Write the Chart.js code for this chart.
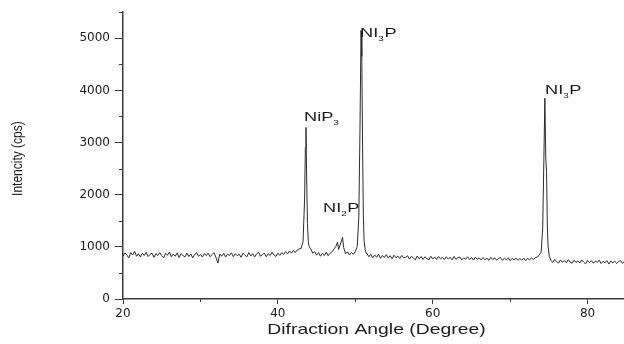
<!DOCTYPE html>
<html>
<head>
<meta charset="utf-8">
<script src="https://cdn.jsdelivr.net/npm/chart.js@4.4.0/dist/chart.umd.min.js"></script>
<style>
  html, body { margin: 0; padding: 0; background: #fff; }
</style>
</head>
<body>
<canvas id="xrdChart" width="624" height="344"></canvas>
<script>
// 2-theta angles (degrees) of the scan, one line per stretch
const angles = [
    20, 20.25, 20.5, 20.75, 21, 21.25, 21.5, 21.75, 22, 22.25, 22.5, 22.75, 23, 23.25, 23.5, 23.75, 24, 24.25, 24.5, 24.75,
    25, 25.25, 25.5, 25.75, 26, 26.25, 26.5, 26.75, 27, 27.25, 27.5, 27.75, 28, 28.25, 28.5, 28.75, 29, 29.25, 29.5, 29.75,
    30, 30.25, 30.5, 30.75, 31, 31.25, 31.5, 31.75, 32, 32.25, 32.5, 32.75, 33, 33.25, 33.5, 33.75, 34, 34.25, 34.5, 34.75,
    35, 35.25, 35.5, 35.75, 36, 36.25, 36.5, 36.75, 37, 37.25, 37.5, 37.75, 38, 38.25, 38.5, 38.75, 39, 39.25, 39.5, 39.75,
    40, 40.25, 40.5, 40.75, 41, 41.25, 41.5, 41.75, 42, 42.25, 42.5, 42.75,
    43, 43.25, 43.45, 43.55, 43.63, 43.72, 43.82, 43.93, 44.05, 44.25, 44.5, 44.75,
    45, 45.25, 45.5, 45.75, 46, 46.25, 46.5, 46.75, 47, 47.25, 47.5, 47.7, 47.85, 48, 48.2, 48.35, 48.5, 48.75, 49, 49.25, 49.5, 49.75,
    50, 50.25, 50.45, 50.6, 50.74, 50.84, 50.94, 51.04, 51.14, 51.28, 51.4,
    51.5, 51.75, 52, 52.25, 52.5, 52.75, 53, 53.25, 53.5, 53.75, 54, 54.25, 54.5, 54.75, 55, 55.25, 55.5, 55.75, 56, 56.25,
    56.5, 56.75, 57, 57.25, 57.5, 57.75, 58, 58.25, 58.5, 58.75, 59, 59.25, 59.5, 59.75, 60, 60.25, 60.5, 60.75, 61, 61.25,
    61.5, 61.75, 62, 62.25, 62.5, 62.75, 63, 63.25, 63.5, 63.75, 64, 64.25, 64.5, 64.75, 65, 65.25, 65.5, 65.75, 66, 66.25,
    66.5, 66.75, 67, 67.25, 67.5, 67.75, 68, 68.25, 68.5, 68.75, 69, 69.25, 69.5, 69.75, 70, 70.25, 70.5, 70.75, 71, 71.25,
    71.5, 71.75, 72, 72.25, 72.5, 72.75, 73, 73.25, 73.5, 73.75,
    74, 74.2, 74.35, 74.48, 74.6, 74.7, 74.8, 74.9, 75.05,
    75.25, 75.5, 75.75, 76, 76.25, 76.5, 76.75, 77, 77.25, 77.5, 77.75, 78, 78.25, 78.5, 78.75, 79, 79.25, 79.5, 79.75,
    80, 80.25, 80.5, 80.75, 81, 81.25, 81.5, 81.75, 82, 82.25, 82.5, 82.75, 83, 83.25, 83.5, 83.75, 84, 84.25, 84.5, 84.75
];

// measured intensity (cps), same layout as angles
const counts = [
    820, 885, 840, 790, 890, 845, 915, 820, 870, 805, 880, 835, 895, 815, 855, 880, 800, 870, 835, 890,
    830, 790, 875, 840, 900, 810, 860, 820, 885, 795, 870, 835, 805, 880, 815, 865, 790, 850, 890, 820,
    855, 805, 870, 830, 880, 810, 850, 890, 800, 690, 865, 820, 875, 805, 860, 835, 885, 810, 870, 830,
    860, 800, 880, 840, 810, 890, 825, 870, 805, 865, 900, 820, 850, 880, 810, 870, 835, 895, 845, 815,
    880, 835, 890, 855, 910, 865, 920, 880, 930, 890, 940, 960,
    970, 1100, 1900, 2900, 3290, 2300, 1450, 1100, 1000, 960, 880, 910,
    840, 890, 820, 880, 835, 900, 830, 880, 905, 960, 1010, 1090, 950, 1020, 1110, 1180, 985, 865, 905, 845, 890, 855,
    905, 1010, 1550, 3200, 5150, 4650, 2900, 1600, 1100, 950, 880,
    870, 810, 855, 790, 845, 800, 860, 780, 835, 795, 850, 785, 830, 770, 840, 790, 825, 775, 835, 790,
    800, 830, 765, 820, 785, 750, 825, 770, 815, 760, 810, 775, 750, 820, 765, 805, 760, 815, 770, 800,
    755, 810, 765, 800, 750, 815, 760, 795, 805, 750, 790, 760, 810, 755, 795, 745, 800, 760, 790, 750,
    795, 750, 785, 740, 800, 755, 790, 745, 780, 795, 740, 785, 750, 790, 735, 780, 750, 785, 740, 775,
    745, 785, 735, 780, 750, 790, 755, 795, 805, 845,
    900, 1350, 2650, 3850, 2700, 2450, 1400, 1000, 820,
    745, 700, 760, 715, 690, 750, 705, 740, 695, 755, 710, 685, 745, 700, 735, 690, 750, 705, 675,
    740, 695, 735, 685, 730, 700, 745, 680, 725, 695, 735, 670, 730, 690, 725, 680, 720, 735, 685, 715
];

// axis ticks
const xMajorTicks = [20, 40, 60, 80];
const xMinorTicks = [30, 50, 70];
const yMajorTicks = [0, 1000, 2000, 3000, 4000, 5000];
const yMinorTicks = [500, 1500, 2500, 3500, 4500, 5500];

// phase labels: text before subscript, subscript, text after, anchor (angle, cps)
const phaseMain = ['NiP', 'NI', 'NI', 'NI'];
const phaseSub = ['3', '2', '3', '3'];
const phaseTail = ['', 'P', 'P', 'P'];
const phaseAngle = [43.38, 45.83, 50.61, 74.5];
const phaseCount = [3418, 1661, 5022, 3934];

const axisColor = '#3a3a3a';
const textColor = '#1a1a1a';
const tickFont = { family: 'DejaVu Sans', size: 12 };
const stretch = 1.4; // the source picture is drawn wide

// short minor tick marks
const minorTicks = {
    id: 'minorTicks',
    afterDraw(chart) {
        const ctx = chart.ctx;
        const x = chart.scales.x;
        const y = chart.scales.y;
        ctx.save();
        ctx.strokeStyle = axisColor;
        ctx.lineWidth = 1;
        ctx.beginPath();
        xMinorTicks.forEach(v => {
            const px = Math.round(x.getPixelForValue(v)) + 0.5;
            ctx.moveTo(px, y.bottom);
            ctx.lineTo(px, y.bottom + 3);
        });
        yMinorTicks.forEach(v => {
            const py = Math.round(y.getPixelForValue(v)) + 0.5;
            ctx.moveTo(x.left - 4, py);
            ctx.lineTo(x.left, py);
        });
        ctx.stroke();
        ctx.restore();
    }
};

// phase names next to the peaks and the two axis titles
const chartTexts = {
    id: 'chartTexts',
    afterDraw(chart) {
        const ctx = chart.ctx;
        const x = chart.scales.x;
        const y = chart.scales.y;
        ctx.save();
        ctx.fillStyle = textColor;
        ctx.textBaseline = 'alphabetic';

        for (let i = 0; i < phaseMain.length; i++) {
            const px = x.getPixelForValue(phaseAngle[i]);
            const py = y.getPixelForValue(phaseCount[i]);
            ctx.save();
            ctx.translate(px, py);
            ctx.scale(stretch, 1);
            ctx.textAlign = 'left';
            let cx = 0;
            ctx.font = '13px "Liberation Sans"';
            ctx.fillText(phaseMain[i], cx, 0);
            cx += ctx.measureText(phaseMain[i]).width;
            ctx.font = '7px "Liberation Sans"';
            ctx.fillText(phaseSub[i], cx, 4);
            cx += ctx.measureText(phaseSub[i]).width + 0.5;
            ctx.font = '13px "Liberation Sans"';
            ctx.fillText(phaseTail[i], cx, 0);
            ctx.restore();
        }

        // x title
        ctx.save();
        ctx.translate((x.left + x.right) / 2 + 3, 334);
        ctx.scale(1.29, 1);
        ctx.textAlign = 'center';
        ctx.font = '15px "Liberation Sans"';
        ctx.fillText('Difraction Angle (Degree)', 0, 0);
        ctx.restore();

        // y title
        ctx.save();
        ctx.translate(22, (y.top + y.bottom) / 2 + 3);
        ctx.scale(1.2, 1);
        ctx.rotate(-Math.PI / 2);
        ctx.textAlign = 'center';
        ctx.font = '12px "Liberation Sans"';
        ctx.fillText('Intencity (cps)', 0, 0);
        ctx.restore();

        ctx.restore();
    }
};

const ctx = document.getElementById('xrdChart').getContext('2d');
const xrdChart = new Chart(ctx, {
    type: 'line',
    data: {
        datasets: [{
            data: angles.map((a, i) => ({ x: a, y: counts[i] })),
            borderColor: '#2b2b2b',
            borderWidth: 1,
            pointRadius: 0,
            tension: 0,
            fill: false
        }]
    },
    options: {
        responsive: false,
        animation: false,
        layout: { padding: { top: 11, right: 0, bottom: 0, left: 0 } },
        plugins: {
            legend: { display: false },
            tooltip: { enabled: false }
        },
        scales: {
            x: {
                type: 'linear',
                min: 20,
                max: 84.7,
                afterBuildTicks: s => { s.ticks = xMajorTicks.map(v => ({ value: v })); },
                afterFit: s => { s.height = 45; },
                ticks: { font: tickFont, color: textColor, padding: 3, maxRotation: 0, callback: v => String(v) },
                grid: { drawOnChartArea: false, tickLength: 5, color: axisColor },
                border: { color: axisColor, width: 1.5 }
            },
            y: {
                min: 0,
                max: 5500,
                afterBuildTicks: s => { s.ticks = yMajorTicks.map(v => ({ value: v })); },
                afterFit: s => { s.width = 123; },
                ticks: { font: tickFont, color: textColor, padding: 5, callback: v => String(v) },
                grid: { drawOnChartArea: false, tickLength: 8, color: axisColor },
                border: { color: axisColor, width: 1.5 }
            }
        }
    },
    plugins: [minorTicks, chartTexts]
});
</script>
</body>
</html>
